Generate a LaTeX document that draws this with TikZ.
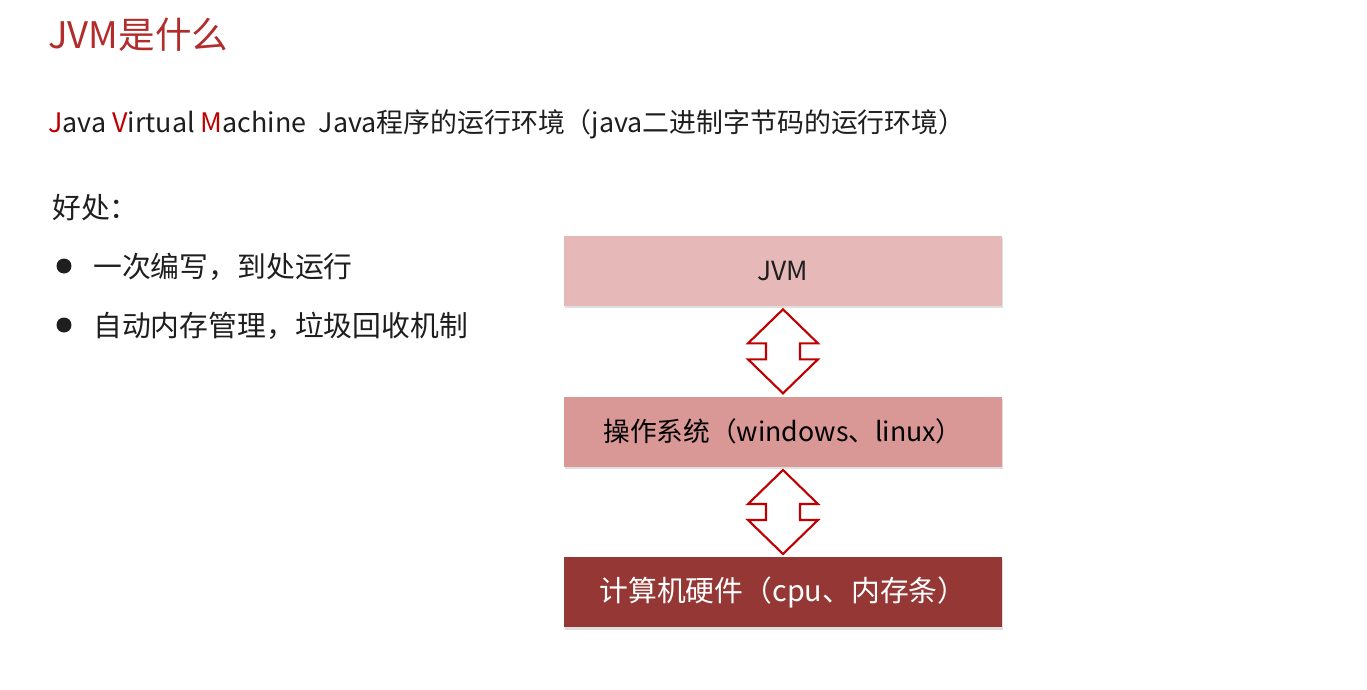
\documentclass[tikz,border=0pt]{standalone}
\usepackage{fontspec}
\setmainfont{Noto Sans CJK SC}
\usetikzlibrary{positioning,calc,shadows}
\definecolor{biaoti}{HTML}{B22C2C}
\definecolor{hong}{HTML}{C00000}
\definecolor{jvmse}{HTML}{E6B9B8}
\definecolor{osse}{HTML}{D99795}
\definecolor{hwse}{HTML}{953735}
\definecolor{zi}{HTML}{1E1E1E}
\tikzset{
  ceng/.style={minimum width=8.76cm,minimum height=1.4cm,inner sep=0pt,
    drop shadow={shadow xshift=0.6pt,shadow yshift=-1.4pt,opacity=0.25},
    font=\fontsize{16.4}{18}\selectfont},
  hang/.style={anchor=base west,inner sep=0pt,text=zi},
  dian/.style={circle,fill=zi,inner sep=0pt,minimum size=0.3cm},
  jiantou/.style={draw=hong,fill=white,line width=1.2pt,line join=miter},
}

\begin{document}
\begin{tikzpicture}[x=0.02cm,y=-0.02cm]
  \useasboundingbox[fill=white] (0,0) rectangle (1367,690);
  % text on the left
  \node[hang,text=biaoti,font=\fontsize{20.8}{24}\selectfont] (titel) at (48,48) {JVM是什么};
  \node[hang,font=\fontsize{15.3}{18}\selectfont] (quancheng) at (48,132)
    {{\color{hong}J}ava {\color{hong}V}irtual {\color{hong}M}achine\ \ Java程序的运行环境（java二进制字节码的运行环境）};
  \node[hang,font=\fontsize{16.4}{18}\selectfont] (haochu) at (52,218) {好处：};
  \node[dian] (d1) at (64,266) {};
  \node[dian] (d2) at (64,325) {};
  \node[hang,font=\fontsize{16.4}{18}\selectfont] (h1) at (93,277) {一次编写，到处运行};
  \node[hang,font=\fontsize{16.4}{18}\selectfont] (h2) at (93,336) {自动内存管理，垃圾回收机制};
  % the three layers
  \node[ceng,fill=jvmse,text=zi,font=\fontsize{15}{18}\selectfont] (jvm) at (783,271) {JVM};
  \node[ceng,fill=osse,text=black,font=\fontsize{15.2}{18}\selectfont,below=1.8cm of jvm] (os) {操作系统（windows、linux）};
  \node[ceng,fill=hwse,text=white,below=1.8cm of os] (hw) {计算机硬件（cpu、内存条）};
  \foreach \oben/\unten in {jvm/os,os/hw}{
    \coordinate (t) at ($(\oben.south)+(0,3)$);
    \coordinate (b) at ($(\unten.north)+(0,-3)$);
    \draw[jiantou] (t) -- ($(t)+(35,34)$) -- ($(t)+(17,34)$) -- ($(b)+(17,-34)$)
      -- ($(b)+(35,-34)$) -- (b) -- ($(b)+(-35,-34)$) -- ($(b)+(-17,-34)$)
      -- ($(t)+(-17,34)$) -- ($(t)+(-35,34)$) -- cycle;
  }
\end{tikzpicture}
\end{document}
